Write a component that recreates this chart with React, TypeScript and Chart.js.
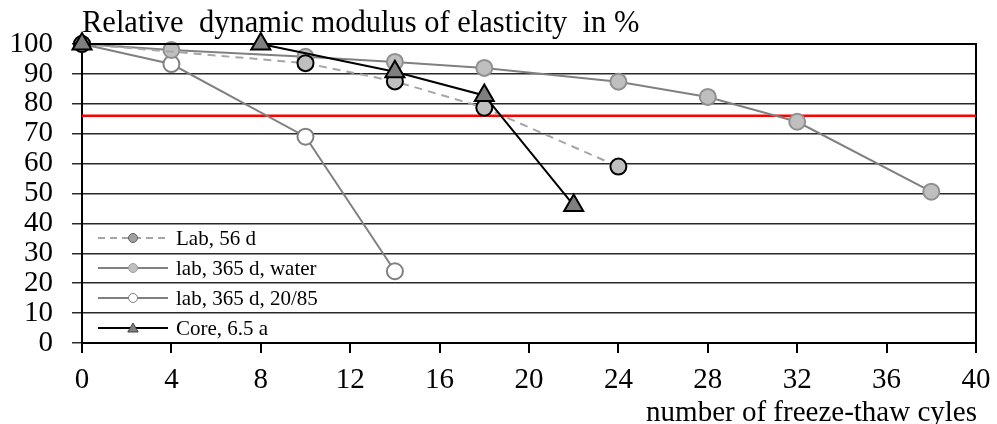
import React, { useEffect, useRef } from "react";
import { Chart, registerables } from "chart.js";

Chart.register(...registerables);

const FONT = '"Liberation Serif", "Times New Roman", serif';

const titleText = "Relative  dynamic modulus of elasticity  in %";
const xTitleText = "number of freeze-thaw cyles";

const lab56X = [0, 10, 14, 18, 24];
const lab56Y = [100, 93.6, 87.5, 78.7, 59];

const waterX = [0, 4, 10, 14, 18, 24, 28, 32, 38];
const waterY = [100, 98, 95.7, 94, 92, 87.4, 82.3, 74, 50.6];

const humidX = [0, 4, 10, 14];
const humidY = [100, 93.3, 69, 24];

const coreX = [0, 8, 14, 18, 22];
const coreY = [100, 100, 90.7, 82.8, 46];

const limitY = 76;
const xRange = [0, 40];

const legendLabels = ["Lab, 56 d", "lab, 365 d, water", "lab, 365 d, 20/85", "Core, 6.5 a"];

const pts = (xs: number[], ys: number[]) => xs.map((x, i) => ({ x, y: ys[i] }));

const drawMarker = (ctx: CanvasRenderingContext2D, style: string, x: number, y: number, r: number, fill: string, stroke: string, lw: number) => {
  ctx.save();
  ctx.beginPath();
  if (style === "triangle") {
    for (let k = 0; k < 3; k++) {
      const a = (k * 2 * Math.PI) / 3;
      const px = x + Math.sin(a) * r;
      const py = y - Math.cos(a) * r;
      if (k === 0) ctx.moveTo(px, py);
      else ctx.lineTo(px, py);
    }
    ctx.closePath();
  } else {
    ctx.arc(x, y, r, 0, Math.PI * 2);
  }
  ctx.fillStyle = fill;
  ctx.fill();
  ctx.lineWidth = lw;
  ctx.strokeStyle = stroke;
  ctx.stroke();
  ctx.restore();
};

const extrasPlugin = {
  id: "extras",
  beforeDatasetsDraw(chart: any) {
    const { ctx, chartArea: a } = chart;
    ctx.save();
    ctx.strokeStyle = "#000";
    ctx.lineWidth = 2;
    ctx.strokeRect(a.left, a.top, a.right - a.left, a.bottom - a.top);
    ctx.restore();
  },
  afterDraw(chart: any) {
    const { ctx } = chart;
    ctx.save();
    ctx.fillStyle = "#000";
    ctx.font = `30.5px ${FONT}`;
    ctx.textAlign = "left";
    ctx.textBaseline = "alphabetic";
    ctx.fillText(titleText, 82, 32);
    ctx.font = `29px ${FONT}`;
    ctx.textAlign = "right";
    ctx.fillText(xTitleText, 977, 421);

    // legend
    const items = [
      { label: legendLabels[0], color: "#a6a6a6", dash: [7, 5], style: "circle", fill: "#a0a0a0", stroke: "#606060" },
      { label: legendLabels[1], color: "#808080", dash: [], style: "circle", fill: "#bfbfbf", stroke: "#a0a0a0" },
      { label: legendLabels[2], color: "#808080", dash: [], style: "circle", fill: "#ffffff", stroke: "#808080" },
      { label: legendLabels[3], color: "#000000", dash: [], style: "triangle", fill: "#7f7f7f", stroke: "#404040" },
    ];
    const rows = [238, 268, 298, 328];
    items.forEach((it, i) => {
      const y = rows[i];
      ctx.save();
      ctx.strokeStyle = it.color;
      ctx.lineWidth = 2;
      ctx.setLineDash(it.dash);
      ctx.beginPath();
      ctx.moveTo(98, y);
      ctx.lineTo(168, y);
      ctx.stroke();
      ctx.restore();
      drawMarker(ctx, it.style, 133, it.style === "triangle" ? y + 1 : y, it.style === "triangle" ? 6 : 4.5, it.fill, it.stroke, 1);
      ctx.fillStyle = "#000";
      ctx.font = `21px ${FONT}`;
      ctx.textAlign = "left";
      ctx.textBaseline = "middle";
      ctx.fillText(it.label, 176, y + 1);
    });
    ctx.restore();
  },
};

export default function App() {
  const ref = useRef<HTMLCanvasElement | null>(null);
  useEffect(() => {
    if (!ref.current) return;
    const chart = new Chart(ref.current, {
      type: "line",
      data: {
        datasets: [
          {
            label: legendLabels[3],
            data: pts(coreX, coreY),
            borderColor: "#000000",
            borderWidth: 2,
            pointStyle: "triangle",
            pointRadius: 11,
            pointBackgroundColor: "#7f7f7f",
            pointBorderColor: "#000000",
            pointBorderWidth: 2,
            clip: false,
            order: 0,
          },
          {
            label: legendLabels[0],
            data: pts(lab56X, lab56Y),
            borderColor: "#a6a6a6",
            borderDash: [8, 6],
            borderWidth: 2,
            pointStyle: "circle",
            pointRadius: 8,
            pointBackgroundColor: "#bfbfbf",
            pointBorderColor: "#000000",
            pointBorderWidth: 2,
            clip: false,
            order: 1,
          },
          {
            label: legendLabels[1],
            data: pts(waterX, waterY),
            borderColor: "#808080",
            borderWidth: 2,
            pointStyle: "circle",
            pointRadius: 8,
            pointBackgroundColor: "#bfbfbf",
            pointBorderColor: "#909090",
            pointBorderWidth: 2,
            clip: false,
            order: 2,
          },
          {
            label: legendLabels[2],
            data: pts(humidX, humidY),
            borderColor: "#808080",
            borderWidth: 2,
            pointStyle: "circle",
            pointRadius: 8,
            pointBackgroundColor: "#ffffff",
            pointBorderColor: "#808080",
            pointBorderWidth: 2,
            clip: false,
            order: 3,
          },
          {
            label: "limit",
            data: xRange.map((x) => ({ x, y: limitY })),
            borderColor: "#ff0000",
            borderWidth: 2.5,
            pointRadius: 0,
            order: 4,
          },
        ],
      },
      options: {
        responsive: false,
        animation: false,
        layout: { padding: { left: 0, top: 44, right: 21, bottom: 0 } },
        plugins: { legend: { display: false }, tooltip: { enabled: false }, title: { display: false } },
        scales: {
          x: {
            type: "linear",
            min: 0,
            max: 40,
            afterFit: (s: any) => {
              s.height = 81;
              s.paddingRight = 0;
              s.paddingLeft = 0;
            },
            ticks: { stepSize: 4, autoSkip: false, color: "#000", font: { family: FONT, size: 29 }, padding: 10, maxRotation: 0 },
            grid: { drawOnChartArea: false, drawTicks: true, tickLength: 10, color: "#000", lineWidth: 2 },
            border: { display: true, color: "#000", width: 2 },
          },
          y: {
            min: 0,
            max: 100,
            afterFit: (s: any) => {
              s.width = 82;
              s.paddingTop = 0;
              s.paddingBottom = 0;
            },
            ticks: { stepSize: 10, autoSkip: false, color: "#000", font: { family: FONT, size: 29 }, padding: 19 },
            grid: { drawTicks: true, tickLength: 10, color: "#2a2a2a", lineWidth: 1.5 },
            border: { display: true, color: "#000", width: 2 },
          },
        },
      },
      plugins: [extrasPlugin],
    });
    return () => chart.destroy();
  }, []);
  return (
    <div style={{ position: "absolute", left: 0, top: 0, width: 997, height: 424, background: "#fff" }}>
      <canvas ref={ref} width={997} height={424} />
    </div>
  );
}
